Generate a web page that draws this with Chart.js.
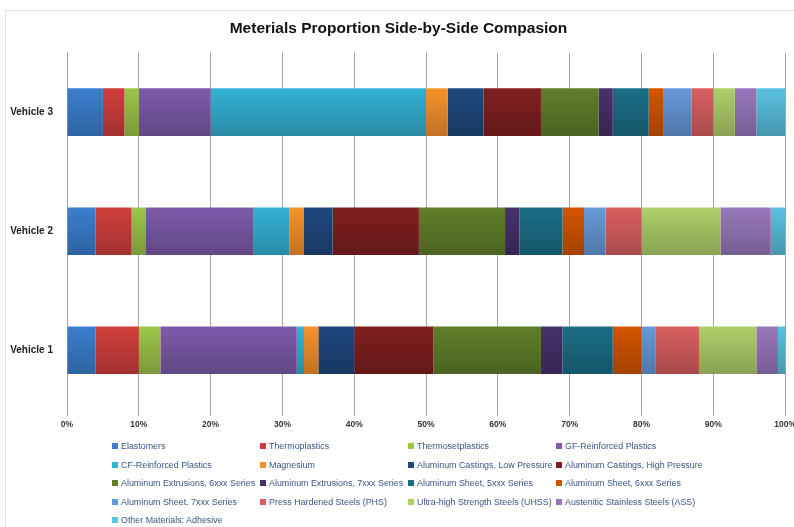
<!DOCTYPE html>
<html>
<head>
<meta charset="utf-8">
<script src="https://cdn.jsdelivr.net/npm/chart.js@4/dist/chart.umd.min.js"></script>
<style>
  html, body { margin: 0; padding: 0; background: #fff; }
  #wrap { position: relative; width: 794px; height: 527px; overflow: hidden; }
  #frame { position: absolute; left: 5px; top: 10px; width: 820px; height: 540px; border: 1px solid #dde3ec; box-sizing: border-box; }
  #box { position: absolute; left: 0; top: 0; width: 800px; height: 527px; }
  #legend { position: absolute; left: 112px; top: 437px; display: grid; grid-template-columns: 148px 148px 148px 148px; grid-auto-rows: 18.5px;
    font-family: "Liberation Sans", Arial, sans-serif; font-size: 8.9px; color: #3a5583; }
  #legend span { display: flex; align-items: center; white-space: nowrap; }
  #legend i { display: inline-block; flex: 0 0 6px; width: 6px; height: 6px; margin-right: 3px; }
</style>
</head>
<body>
<div id="wrap">
  <div id="frame"></div>
  <div id="box"><canvas id="matChart"></canvas></div>
  <div id="legend"></div>
</div>
<script>
// categories, top to bottom
const vehicles = ['Vehicle 3', 'Vehicle 2', 'Vehicle 1'];

const materials = [
  'Elastomers', 'Thermoplastics', 'Thermosetplastics', 'GF-Reinforced Plastics',
  'CF-Reinforced Plastics', 'Magnesium', 'Aluminum Castings, Low Pressure', 'Aluminum Castings, High Pressure',
  'Aluminum Extrusions, 6xxx Series', 'Aluminum Extrusions, 7xxx Series', 'Aluminum Sheet, 5xxx Series', 'Aluminum Sheet, 6xxx Series',
  'Aluminum Sheet, 7xxx Series', 'Press Hardened Steels (PHS)', 'Ultra-high Strength Steels (UHSS)', 'Austenitic Stainless Steels (ASS)',
  'Other Materials: Adhesive'
];

// percent share of each material, same order as materials
const vehicle1 = [4, 6, 3, 19, 1, 2, 5, 11, 15, 3, 7, 4, 2, 6, 8, 3, 1];
const vehicle2 = [4, 5, 2, 15, 5, 2, 4, 12, 12, 2, 6, 3, 3, 5, 11, 7, 2];
const vehicle3 = [5, 3, 2, 10, 30, 3, 5, 8, 8, 2, 5, 2, 4, 3, 3, 3, 4];

const xTicks = [0, 10, 20, 30, 40, 50, 60, 70, 80, 90, 100];

const colors = [
  '#3B7FCF', '#D13F3D', '#9DC64A', '#7E5BAA', '#34B2D4', '#F7922C', '#1F487E', '#801F1F',
  '#5F7F2A', '#47316A', '#1B6E86', '#D35400', '#6699D9', '#D96060', '#AED06A', '#9878BD', '#5AC2E0'
];

function shade(hex, f) {
  const n = parseInt(hex.slice(1), 16);
  const r = Math.round(((n >> 16) & 255) * f);
  const g = Math.round(((n >> 8) & 255) * f);
  const b = Math.round((n & 255) * f);
  return 'rgb(' + r + ',' + g + ',' + b + ')';
}

const catPct = 0.8, barPct = 0.5;

// vertical gradient per bar, like the office chart fill
function barFill(i) {
  return function(ctx) {
    const chart = ctx.chart;
    const y = chart.scales.y;
    if (!chart.chartArea || !y || ctx.dataIndex === undefined) return colors[i];
    const yc = y.getPixelForValue(ctx.dataIndex);
    const half = (chart.chartArea.height / vehicles.length) * catPct * barPct / 2;
    const g = chart.ctx.createLinearGradient(0, yc - half, 0, yc + half);
    g.addColorStop(0, colors[i]);
    g.addColorStop(1, shade(colors[i], 0.78));
    return g;
  };
}

const datasets = materials.map(function(m, i) {
  return {
    label: m,
    data: [vehicle3[i], vehicle2[i], vehicle1[i]],
    backgroundColor: barFill(i),
    borderWidth: 0,
    categoryPercentage: catPct,
    barPercentage: barPct
  };
});

const ctx = document.getElementById('matChart').getContext('2d');

new Chart(ctx, {
  type: 'bar',
  data: { labels: vehicles, datasets: datasets },
  options: {
    indexAxis: 'y',
    responsive: true,
    maintainAspectRatio: false,
    animation: false,
    layout: { padding: { left: 0, right: 3, top: 0, bottom: 93 } },
    plugins: {
      legend: { display: false },
      tooltip: { enabled: false },
      title: {
        display: true,
        text: 'Meterials Proportion Side-by-Side Compasion',
        color: '#111',
        font: { family: '"Liberation Sans", Arial, sans-serif', size: 15.5, weight: 'bold' },
        padding: { top: 19, bottom: 15 }
      }
    },
    scales: {
      x: {
        stacked: true,
        min: 0,
        max: 100,
        afterBuildTicks: function(s) { s.ticks = xTicks.map(function(v) { return { value: v }; }); },
        ticks: {
          callback: function(v) { return v + '%'; },
          color: '#333',
          font: { family: '"Liberation Sans", Arial, sans-serif', size: 8.5, weight: 'bold' },
          maxRotation: 0,
          padding: 4
        },
        grid: { color: '#a6a6a6', tickLength: 6 },
        border: { display: false }
      },
      y: {
        stacked: true,
        afterFit: function(s) { s.width = 67; },
        ticks: {
          color: '#222',
          font: { family: '"Liberation Sans", Arial, sans-serif', size: 10, weight: 'bold' },
          padding: 6
        },
        grid: { display: false },
        border: { display: true, color: '#a6a6a6' }
      }
    }
  }
});

// legend grid below the plot
const legend = document.getElementById('legend');
materials.forEach(function(m, i) {
  const s = document.createElement('span');
  const box = document.createElement('i');
  box.style.background = colors[i];
  s.appendChild(box);
  s.appendChild(document.createTextNode(m));
  legend.appendChild(s);
});
</script>
</body>
</html>
